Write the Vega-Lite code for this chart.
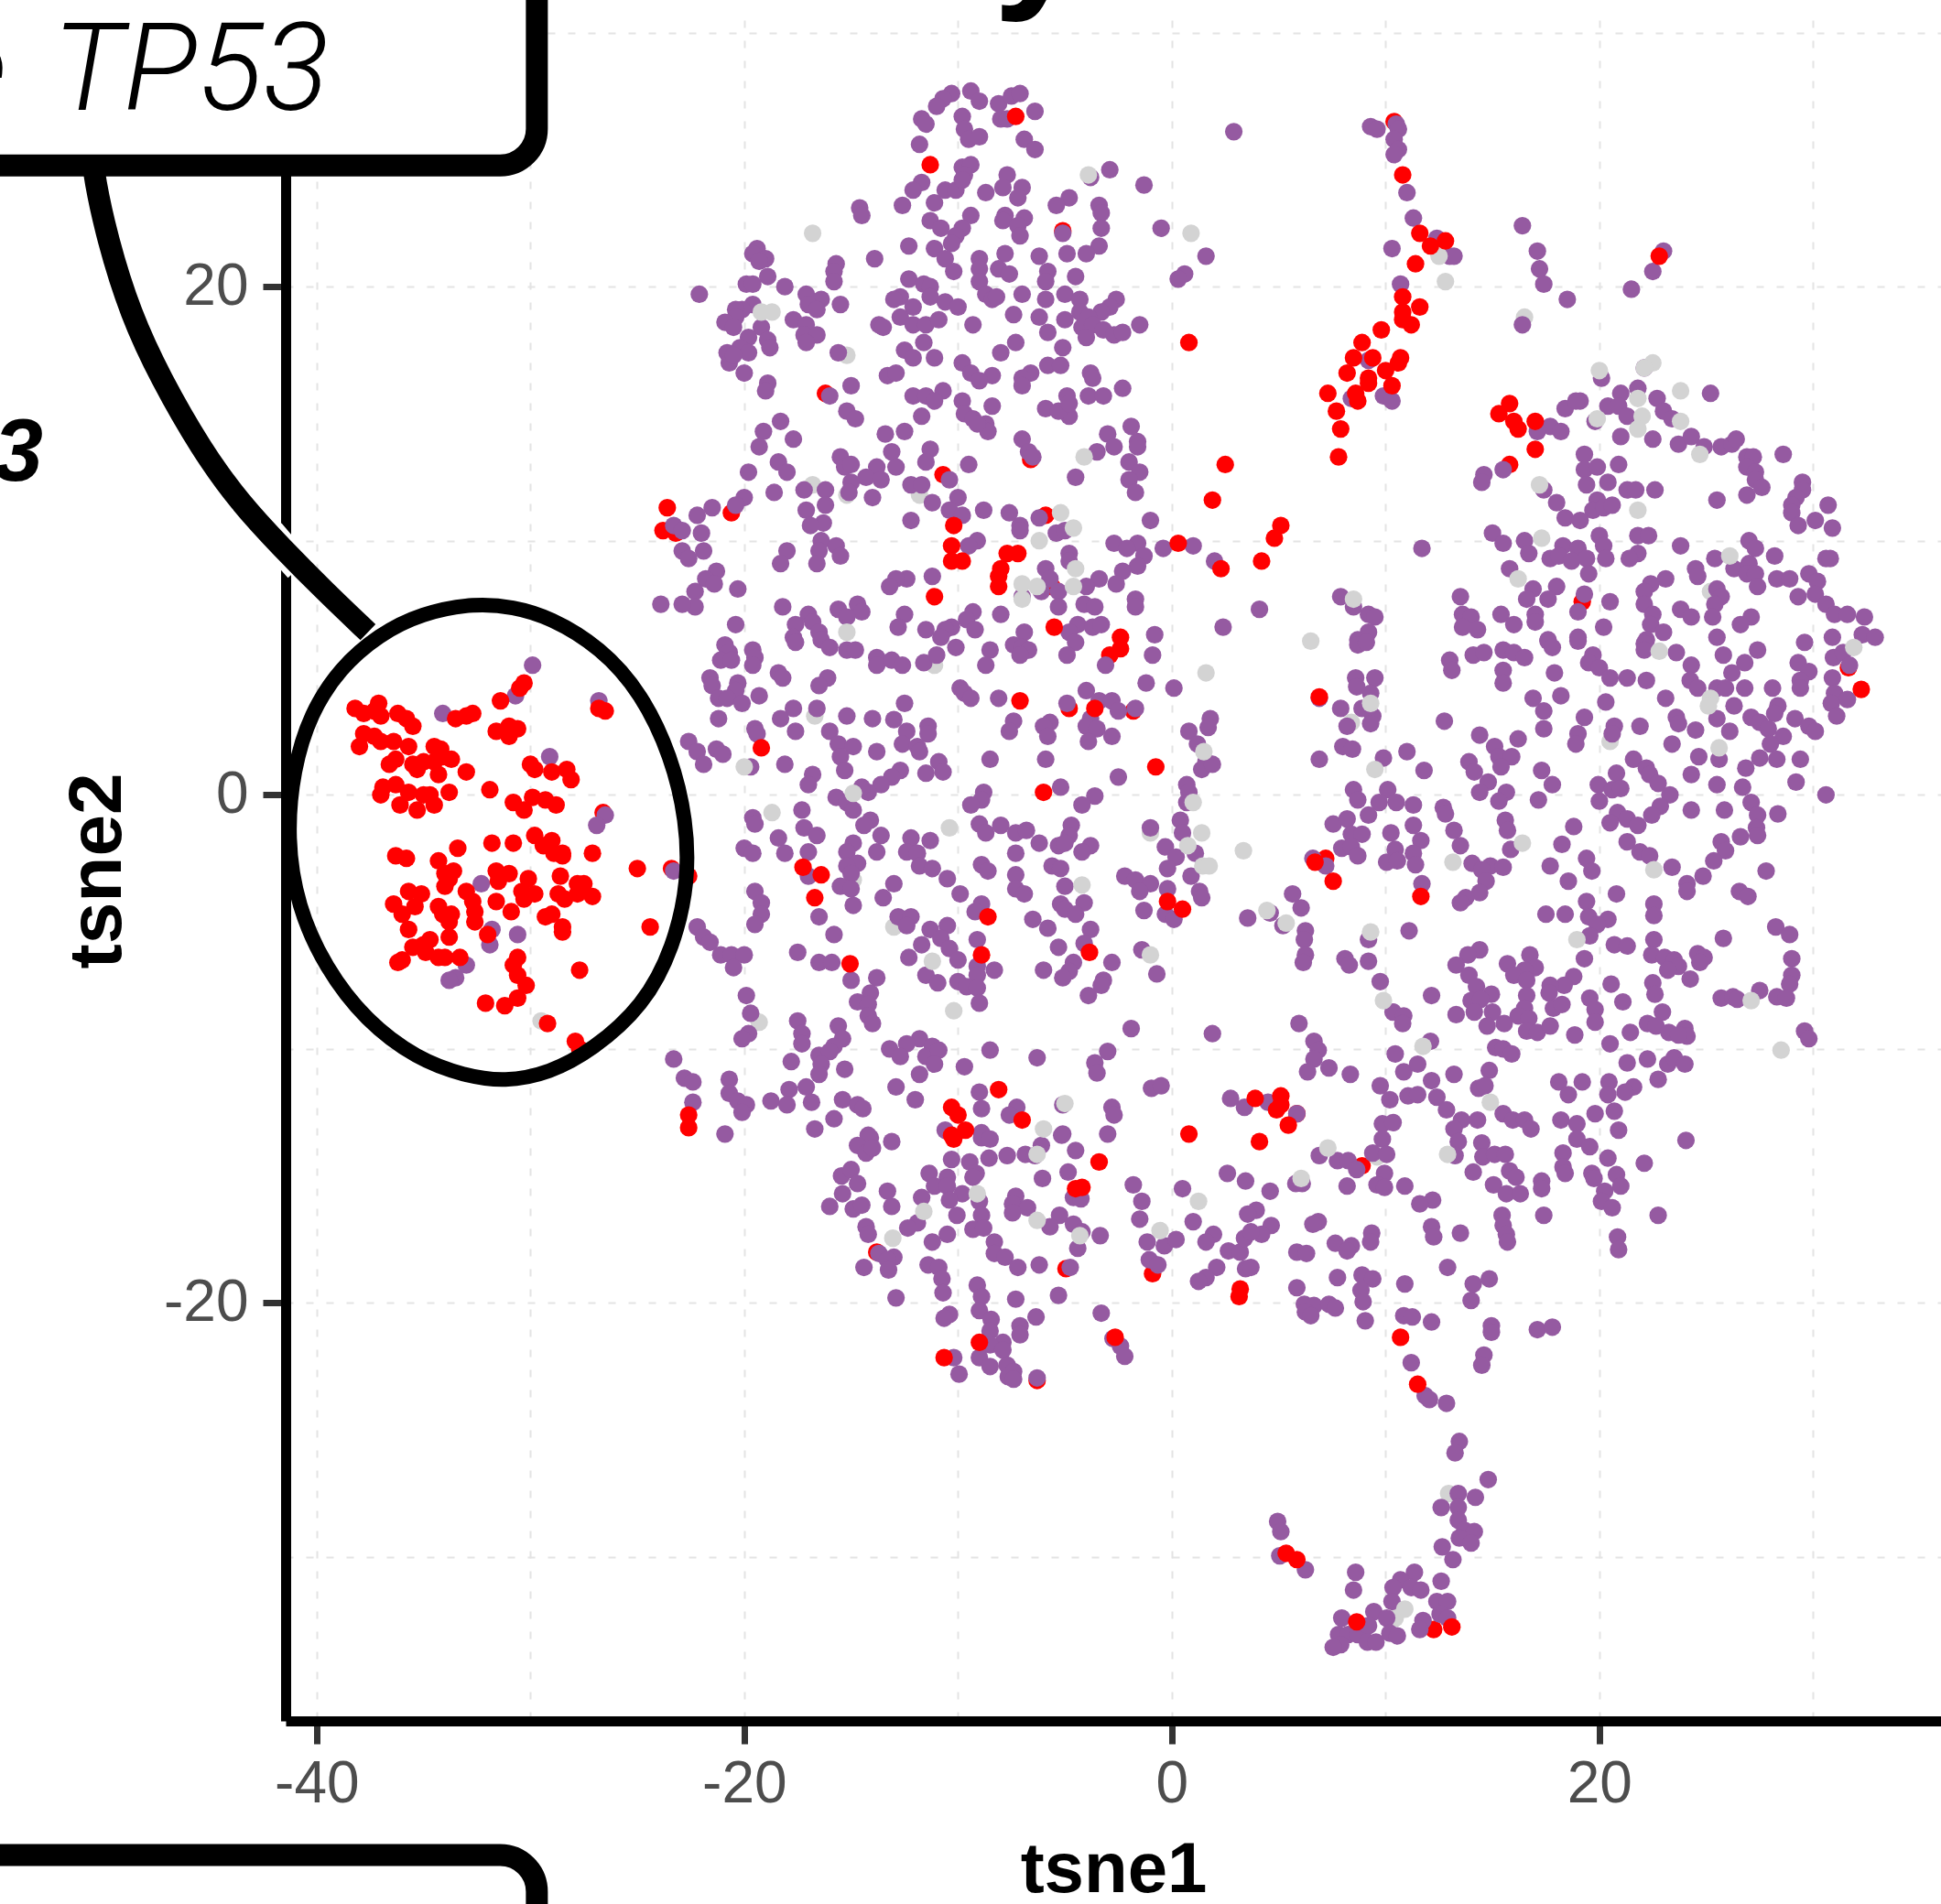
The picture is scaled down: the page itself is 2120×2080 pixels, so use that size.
{"$schema":"https://vega.github.io/schema/vega-lite/v6.json","width":1808,"height":1858,"autosize":"none","padding":{"left":312,"top":22,"right":0,"bottom":200},"background":"white","config":{"view":{"stroke":null},"font":"Liberation Sans"},
"datasets":{
"redUnder":[{"x":-5.1,"y":22.2},{"x":-16.2,"y":15.8},{"x":-10.7,"y":12.6},{"x":-6.6,"y":13.2},{"x":-5.9,"y":11},{"x":-20.6,"y":11.1},{"x":-23.8,"y":10.4},{"x":-23.2,"y":10.3},{"x":-5.6,"y":8.2},{"x":10.4,"y":26.5},{"x":15.8,"y":13},{"x":19.2,"y":7.6},{"x":-4.8,"y":3.4},{"x":-2.9,"y":5.5},{"x":-1.8,"y":3.3},{"x":31.65,"y":5},{"x":7.2,"y":-2.5},{"x":5.85,"y":-12.55},{"x":-6.3,"y":-23.05},{"x":-13.8,"y":-18},{"x":-4.95,"y":-18.65},{"x":8.9,"y":-14.6},{"x":12.25,"y":-32.85},{"x":-26.6,"y":-0.7},{"x":-23.4,"y":-2.9},{"x":-0.9,"y":-18.85}],
"grayUnder":[{"x":-15.2,"y":17.3},{"x":-16.8,"y":12.2},{"x":-15.2,"y":11.8},{"x":-11.8,"y":11.8},{"x":16.5,"y":18.8},{"x":-16.7,"y":3.1},{"x":-1,"y":-1.5},{"x":-13,"y":-5.2},{"x":-14.9,"y":-3.35},{"x":-19.3,"y":-8.95},{"x":-11.1,"y":5.1},{"x":8.4,"y":2.85},{"x":20.5,"y":2.1},{"x":9.6,"y":-14.25},{"x":12.95,"y":-27.5},{"x":10.45,"y":-32.4},{"x":-29.5,"y":-8.9},{"x":25.2,"y":8}],
"purple":[{"x":-10.3,"y":27.6},{"x":-10.7,"y":27.4},{"x":-11,"y":27.1},{"x":-9.4,"y":27.7},{"x":-9,"y":27.3},{"x":-8.1,"y":27.2},{"x":-7.5,"y":27.5},{"x":-7.1,"y":27.6},{"x":-8,"y":26.6},{"x":-7.7,"y":26.6},{"x":-6.4,"y":26.9},{"x":-11.7,"y":26.6},{"x":-11.5,"y":26.4},{"x":-9.8,"y":26.7},{"x":-9.7,"y":26.2},{"x":-9.5,"y":25.8},{"x":-9,"y":25.9},{"x":-11.8,"y":25.6},{"x":-6.9,"y":25.8},{"x":-6.4,"y":25.4},{"x":-9.8,"y":24.7},{"x":-9.4,"y":24.8},{"x":-9.7,"y":24.4},{"x":-2.9,"y":24.6},{"x":-3.8,"y":24.3},{"x":-11.7,"y":24.1},{"x":-12.1,"y":23.8},{"x":-10.6,"y":23.8},{"x":-10.1,"y":23.8},{"x":-9.8,"y":24.2},{"x":-7.7,"y":24.4},{"x":-7.9,"y":23.9},{"x":-8.7,"y":23.7},{"x":-7,"y":23.9},{"x":-7.2,"y":23.5},{"x":-1.3,"y":24},{"x":-4.8,"y":23.5},{"x":-5.4,"y":23.2},{"x":-11.1,"y":23.3},{"x":-12.6,"y":23.2},{"x":-14.6,"y":23.1},{"x":-14.5,"y":22.8},{"x":-3.4,"y":23.2},{"x":-3.3,"y":22.9},{"x":-3.3,"y":22.3},{"x":-0.5,"y":22.3},{"x":-11.3,"y":22.6},{"x":-10.8,"y":22.3},{"x":-9.4,"y":22.8},{"x":-9.8,"y":22.3},{"x":-10.1,"y":22},{"x":-10.3,"y":21.7},{"x":-7.8,"y":22.8},{"x":-7.9,"y":22.6},{"x":-6.9,"y":22.7},{"x":-7.2,"y":22.4},{"x":-7.1,"y":22},{"x":-5.1,"y":22.1},{"x":-12.3,"y":21.6},{"x":-11.1,"y":21.5},{"x":-7.8,"y":21.3},{"x":-3.4,"y":21.6},{"x":-4,"y":21.3},{"x":-4.9,"y":21.3},{"x":-6.2,"y":21.2},{"x":-19.4,"y":21.5},{"x":-19.6,"y":21.3},{"x":-19,"y":21.1},{"x":-19.3,"y":21},{"x":-15.7,"y":20.9},{"x":-15.8,"y":20.6},{"x":-15.8,"y":20.2},{"x":-13.9,"y":21.1},{"x":-10.6,"y":21.1},{"x":-10.2,"y":20.6},{"x":-9,"y":21.1},{"x":-9,"y":20.7},{"x":-9,"y":20.2},{"x":-8.1,"y":20.7},{"x":-7.6,"y":20.5},{"x":-5.8,"y":20.6},{"x":-5.9,"y":20.2},{"x":-4.5,"y":20.4},{"x":0.6,"y":20.5},{"x":0.3,"y":20.3},{"x":-18.9,"y":20.4},{"x":-19.9,"y":20.1},{"x":-19.6,"y":20.1},{"x":-18.1,"y":20},{"x":-22.1,"y":19.7},{"x":-17.1,"y":19.7},{"x":-16.4,"y":19.5},{"x":-17,"y":19.3},{"x":-16.6,"y":19.1},{"x":-15.5,"y":19.3},{"x":-12.3,"y":20.3},{"x":-11.6,"y":20.1},{"x":-11.3,"y":20},{"x":-11.3,"y":19.6},{"x":-12.7,"y":19.6},{"x":-13,"y":19.5},{"x":-12.1,"y":19.2},{"x":-10.6,"y":19.4},{"x":-10,"y":19.2},{"x":-8.7,"y":19.7},{"x":-8.4,"y":19.5},{"x":-8.2,"y":19.6},{"x":-7,"y":19.7},{"x":-5.9,"y":19.5},{"x":-5,"y":19.7},{"x":-4.3,"y":19.5},{"x":-2.6,"y":19.5},{"x":-2.9,"y":19.2},{"x":-3.3,"y":19},{"x":-4.3,"y":19},{"x":-19.6,"y":19.3},{"x":-20.1,"y":19.1},{"x":-20.4,"y":19.1},{"x":-20.4,"y":18.8},{"x":-20.9,"y":18.6},{"x":-20.5,"y":18.4},{"x":-17.7,"y":18.7},{"x":-17.1,"y":18.5},{"x":-12.7,"y":18.8},{"x":-12.1,"y":18.5},{"x":-13.7,"y":18.5},{"x":-13.5,"y":18.4},{"x":-11.5,"y":18.5},{"x":-10.9,"y":18.7},{"x":-9.3,"y":18.5},{"x":-7.4,"y":18.9},{"x":-6.2,"y":18.8},{"x":-5,"y":18.7},{"x":-3.9,"y":18.8},{"x":-4.2,"y":18.4},{"x":-3.7,"y":18.5},{"x":-1.5,"y":18.5},{"x":-3.2,"y":18.3},{"x":-2.7,"y":18.1},{"x":-2.3,"y":18.2},{"x":-5.8,"y":18.2},{"x":-4,"y":18},{"x":-19.2,"y":18.4},{"x":-19.8,"y":18},{"x":-18.9,"y":17.9},{"x":-18.8,"y":17.6},{"x":-17.2,"y":18.1},{"x":-16.6,"y":18.1},{"x":-17.1,"y":17.8},{"x":-11.6,"y":17.8},{"x":-7.3,"y":17.8},{"x":-8,"y":17.4},{"x":-5.1,"y":17.6},{"x":-20.8,"y":17.4},{"x":-20.2,"y":17.6},{"x":-19.8,"y":17.4},{"x":-20.7,"y":17},{"x":-20.5,"y":17.3},{"x":-20,"y":16.6},{"x":-15.6,"y":17.4},{"x":-12.5,"y":17.5},{"x":-12.1,"y":17.2},{"x":-11.1,"y":17.2},{"x":-9.8,"y":17},{"x":-9.4,"y":16.6},{"x":-8.4,"y":16.5},{"x":-9,"y":16.3},{"x":-5.8,"y":16.9},{"x":-5.2,"y":16.9},{"x":-6.6,"y":16.6},{"x":-7,"y":16.4},{"x":-7,"y":16.1},{"x":-13.3,"y":16.5},{"x":-12.9,"y":16.6},{"x":-3.8,"y":16.6},{"x":-3.7,"y":16.4},{"x":-18.9,"y":16.2},{"x":-19,"y":15.9},{"x":-15,"y":16.1},{"x":-16,"y":15.7},{"x":-2.3,"y":16},{"x":-3.9,"y":15.7},{"x":-3.2,"y":15.7},{"x":-4.9,"y":15.7},{"x":-12.1,"y":15.7},{"x":-11.5,"y":15.7},{"x":-10.7,"y":15.9},{"x":-11.1,"y":15.5},{"x":-9.8,"y":15.5},{"x":-8.4,"y":15.3},{"x":-4.8,"y":14.9},{"x":-5.9,"y":15.2},{"x":-5.3,"y":15.1},{"x":-4.8,"y":15.4},{"x":-11.7,"y":14.9},{"x":-9.7,"y":15},{"x":-9.3,"y":14.8},{"x":-8.7,"y":14.6},{"x":-8.6,"y":14.3},{"x":-9.1,"y":14.6},{"x":-15.2,"y":15.1},{"x":-14.8,"y":14.8},{"x":-18.3,"y":14.7},{"x":-19.1,"y":14.3},{"x":-17.7,"y":14},{"x":-19.3,"y":13.7},{"x":-13.4,"y":14.2},{"x":-12.5,"y":14.3},{"x":-1.9,"y":14.5},{"x":-3,"y":14.2},{"x":-1.6,"y":13.9},{"x":-1.6,"y":13.7},{"x":-7,"y":14},{"x":-6.7,"y":13.5},{"x":-6.5,"y":13.3},{"x":-2.7,"y":13.7},{"x":-3.5,"y":13.5},{"x":-13.1,"y":13.5},{"x":-11.3,"y":13.6},{"x":-11.5,"y":13.1},{"x":-18.4,"y":13.1},{"x":-18,"y":12.7},{"x":-19.8,"y":12.7},{"x":-15.5,"y":13.3},{"x":-15.3,"y":12.9},{"x":-15,"y":13},{"x":-13.8,"y":12.9},{"x":-12.9,"y":12.9},{"x":-9.5,"y":13},{"x":-2,"y":13.1},{"x":-1.5,"y":12.7},{"x":-2,"y":12.4},{"x":-4.5,"y":12.5},{"x":-10.4,"y":12.4},{"x":-14.3,"y":12.5},{"x":-13.6,"y":12.4},{"x":-15,"y":12.3},{"x":-12.2,"y":12.2},{"x":-11.7,"y":12.2},{"x":-1.7,"y":11.9},{"x":-17.2,"y":12},{"x":-16.2,"y":12},{"x":-15.1,"y":11.9},{"x":-18.6,"y":11.9},{"x":-20,"y":11.7},{"x":-20.4,"y":11.4},{"x":-14,"y":11.7},{"x":-10,"y":11.7},{"x":-11.2,"y":11.5},{"x":-16.2,"y":11.4},{"x":-21.5,"y":11.3},{"x":-17.1,"y":11.2},{"x":-10.4,"y":11.2},{"x":-9.8,"y":11},{"x":-8.8,"y":11.2},{"x":-7.6,"y":11.1},{"x":-22.2,"y":11},{"x":-12.2,"y":10.8},{"x":-1,"y":10.8},{"x":-7.1,"y":10.6},{"x":-6.2,"y":10.9},{"x":-16.3,"y":10.7},{"x":-16.9,"y":10.6},{"x":-23.3,"y":10.6},{"x":-22.9,"y":10.4},{"x":-22,"y":10.3},{"x":-7.1,"y":10.4},{"x":-5.4,"y":10.3},{"x":-5,"y":10.4},{"x":-16.4,"y":10},{"x":-9.1,"y":10},{"x":-9.5,"y":9.8},{"x":-2.7,"y":9.9},{"x":-1.6,"y":9.9},{"x":-2.1,"y":9.7},{"x":-0.4,"y":9.7},{"x":-15.7,"y":9.8},{"x":-16.5,"y":9.6},{"x":-22.9,"y":9.6},{"x":-21.9,"y":9.6},{"x":-18,"y":9.6},{"x":-15.5,"y":9.4},{"x":-1.3,"y":9.4},{"x":-4.8,"y":9.5},{"x":-22.6,"y":9.3},{"x":-18.3,"y":9.1},{"x":-16.6,"y":9.1},{"x":-4.8,"y":9.2},{"x":-1.6,"y":9},{"x":-21.3,"y":8.8},{"x":-5.9,"y":8.9},{"x":-2.3,"y":8.8},{"x":-5.7,"y":8.5},{"x":-21.8,"y":8.5},{"x":-11.2,"y":8.6},{"x":-12.4,"y":8.5},{"x":-12.9,"y":8.5},{"x":-13.2,"y":8.2},{"x":-3.4,"y":8.5},{"x":-4,"y":8.2},{"x":-2.6,"y":8.3},{"x":-21.4,"y":8.3},{"x":-20.3,"y":8.1},{"x":-22.3,"y":8},{"x":-7,"y":7.8},{"x":-6.1,"y":8},{"x":-5.3,"y":8},{"x":-1.7,"y":7.7},
{"x":2.9,"y":26.1},{"x":9.3,"y":26.3},{"x":9.6,"y":26.2},{"x":10.5,"y":26.4},{"x":10.6,"y":26.2},{"x":10.4,"y":25.8},{"x":10.6,"y":25.4},{"x":10.4,"y":25.2},{"x":11,"y":23.7},{"x":11.3,"y":22.7},{"x":10.3,"y":21.5},{"x":12.4,"y":21.9},{"x":13,"y":21.2},{"x":13.2,"y":21.2},{"x":10.7,"y":20.1},{"x":16.4,"y":22.4},{"x":17.1,"y":21.4},{"x":17.2,"y":20.7},{"x":17.4,"y":20.1},{"x":18.5,"y":19.5},{"x":23,"y":21.4},{"x":22.5,"y":20.6},{"x":21.5,"y":19.9},{"x":16.4,"y":18.5},{"x":1.6,"y":21.2},{"x":9.2,"y":17.1},{"x":8.4,"y":15.6},{"x":9.9,"y":15.7},{"x":10.3,"y":15.5},{"x":20.1,"y":16.4},{"x":22.1,"y":16.8},{"x":19.1,"y":15.5},{"x":18.4,"y":15.2},{"x":18.9,"y":15.5},{"x":21,"y":15.8},{"x":21.8,"y":16},{"x":22.7,"y":15.6},{"x":20.4,"y":15.3},{"x":20.9,"y":15.3},{"x":25.2,"y":15.8},{"x":23,"y":15.1},{"x":23.4,"y":14.8},{"x":21.3,"y":14.9},{"x":19.8,"y":14.7},{"x":17.7,"y":14.5},{"x":18.2,"y":14.3},{"x":17.1,"y":14.3},{"x":21,"y":14.1},{"x":22.5,"y":14},{"x":23.7,"y":13.8},{"x":24.3,"y":14.1},{"x":24.9,"y":13.7},{"x":25.7,"y":13.7},{"x":26.2,"y":13.8},{"x":26.4,"y":14},{"x":26.9,"y":13.3},{"x":27.2,"y":13.3},{"x":28.6,"y":13.4},{"x":19.3,"y":13.4},{"x":26.9,"y":12.9},{"x":27.3,"y":12.7},{"x":20.9,"y":13},{"x":15.5,"y":12.8},{"x":14.6,"y":12.6},{"x":14.5,"y":12.3},{"x":19.3,"y":12.8},{"x":19.9,"y":12.9},{"x":19.4,"y":12.2},{"x":20.4,"y":12.3},{"x":27.3,"y":12.4},{"x":27.6,"y":12.1},{"x":26.9,"y":11.8},{"x":29.5,"y":12.3},{"x":29.5,"y":12},{"x":17.4,"y":12},{"x":21.3,"y":12},{"x":21.7,"y":12},{"x":22.6,"y":12},{"x":25.5,"y":11.6},{"x":29.2,"y":11.7},{"x":29,"y":11.4},{"x":18,"y":11.5},{"x":19.9,"y":11.6},{"x":19.7,"y":11.2},{"x":20.2,"y":11.3},{"x":20.6,"y":11.4},{"x":30.7,"y":11.4},{"x":29,"y":11.1},{"x":18.4,"y":10.9},{"x":19.1,"y":10.8},{"x":30.1,"y":10.8},{"x":29.3,"y":10.6},{"x":30.9,"y":10.5},{"x":20,"y":10.2},{"x":15,"y":10.3},{"x":15.5,"y":9.9},{"x":16.5,"y":10},{"x":16.7,"y":9.5},{"x":18.3,"y":9.8},{"x":19,"y":9.7},{"x":20.2,"y":9.8},{"x":20.3,"y":9.3},{"x":21.8,"y":10.2},{"x":22.3,"y":10.2},{"x":23.8,"y":9.8},{"x":27,"y":10},{"x":27.3,"y":9.7},{"x":11.7,"y":9.7},{"x":1,"y":9.8},{"x":17.7,"y":9.3},{"x":18.1,"y":9.4},{"x":18.7,"y":9.2},{"x":19.4,"y":9.3},{"x":21.8,"y":9.5},{"x":21.4,"y":9.3},{"x":25.4,"y":9.3},{"x":28.2,"y":9.4},{"x":30.6,"y":9.3},{"x":30.8,"y":9.3},{"x":2,"y":9.2},{"x":15.8,"y":8.9},{"x":19.5,"y":8.7},{"x":24.5,"y":8.9},{"x":24.6,"y":8.6},{"x":26.3,"y":8.9},{"x":27,"y":9.1},{"x":26.9,"y":8.7},{"x":27.3,"y":8.7},{"x":23.1,"y":8.5},{"x":22.4,"y":8.3},{"x":28.3,"y":8.5},{"x":28.9,"y":8.5},{"x":29.8,"y":8.7},{"x":27.4,"y":8.2},{"x":16.9,"y":8.1},{"x":18,"y":8.2},{"x":30.2,"y":8.4},{"x":16.6,"y":7.7},{"x":17.6,"y":7.7},{"x":22.1,"y":8},{"x":19.3,"y":7.9},{"x":25.5,"y":8.1},{"x":25.7,"y":7.8},{"x":29.3,"y":7.8},{"x":30.1,"y":7.9},{"x":22.1,"y":7.5},{"x":13.5,"y":7.8},{"x":20.5,"y":7.6},{"x":7.9,"y":7.8},{"x":8.5,"y":7.4},{"x":25.4,"y":7.5},{"x":30.6,"y":7.5},{"x":4.1,"y":7.3},{"x":9.2,"y":7.1},{"x":9.5,"y":7},{"x":13.6,"y":7.1},{"x":14,"y":7},{"x":15.4,"y":7.1},{"x":19,"y":7.2},{"x":23.8,"y":7.3},{"x":24.3,"y":7},{"x":22.5,"y":7.1},{"x":25.3,"y":7},{"x":27.1,"y":7},{"x":31,"y":7.1},{"x":31.6,"y":7.1},{"x":32.4,"y":7},{"x":17,"y":7.1},{"x":17,"y":6.8},{"x":16,"y":6.7},{"x":13.6,"y":6.6},{"x":14.3,"y":6.5},{"x":9.2,"y":6.4},{"x":2.4,"y":6.6},{"x":20.2,"y":6.6},{"x":22.4,"y":6.7},{"x":26.6,"y":6.7},{"x":32.3,"y":6.3},{"x":32.9,"y":6.2},{"x":25.5,"y":6.2},{"x":30.9,"y":6.2},{"x":17.6,"y":6.1},{"x":19,"y":6.2},{"x":23,"y":6.4},{"x":22.2,"y":6.1},{"x":8.7,"y":6.1},
{"x":-22.3,"y":7.4},{"x":-22.9,"y":7.5},{"x":-23.9,"y":7.5},{"x":-18.2,"y":7.4},{"x":-17,"y":7.1},{"x":-15.6,"y":7.3},{"x":-14.7,"y":7.5},{"x":-14.5,"y":7.2},{"x":-15.2,"y":7},{"x":-12.5,"y":7.1},{"x":-12.8,"y":6.6},{"x":-9.3,"y":7.2},{"x":-9.6,"y":6.9},{"x":-9.2,"y":6.5},{"x":-8,"y":7.1},{"x":-10.3,"y":6.6},{"x":-10.6,"y":6.5},{"x":-11.5,"y":6.5},{"x":-10.8,"y":6.2},{"x":-20.4,"y":6.7},{"x":-17.6,"y":6.7},{"x":-16.8,"y":6.8},{"x":-16.5,"y":6.4},{"x":-17.7,"y":6.2},{"x":-17.6,"y":6},{"x":-16.4,"y":6.1},{"x":-5.3,"y":7.4},{"x":-4.1,"y":7.5},{"x":-3.6,"y":7.4},{"x":-1.7,"y":7.4},{"x":-6.9,"y":6.4},{"x":-4.4,"y":6.7},{"x":-3.7,"y":6.6},{"x":-3.3,"y":6.7},{"x":-4.8,"y":6.4},{"x":-4.5,"y":6},{"x":-4.9,"y":5.5},{"x":-0.8,"y":6.3},{"x":-0.9,"y":5.5},{"x":-10.1,"y":5.8},{"x":-8.5,"y":5.7},{"x":-7.4,"y":5.9},{"x":-7,"y":5.8},{"x":-6.7,"y":5.7},{"x":-7.1,"y":5.5},{"x":-20.9,"y":5.9},{"x":-20.7,"y":5.6},{"x":-21.1,"y":5.3},{"x":-20.6,"y":5.3},{"x":-19.6,"y":5.7},{"x":-19.5,"y":5.4},{"x":-19.6,"y":5.1},{"x":-16,"y":5.8},{"x":-15.2,"y":5.7},{"x":-14.8,"y":5.7},{"x":-13.8,"y":5.4},{"x":-13.8,"y":5.1},{"x":-13.1,"y":5.3},{"x":-12.6,"y":5.1},{"x":-11.6,"y":5.2},{"x":-11,"y":5.5},{"x":-8.7,"y":5.1},{"x":-3.1,"y":5.1},{"x":-1.2,"y":4.4},{"x":0.1,"y":4.2},{"x":-21.6,"y":4.6},{"x":-21.5,"y":4.3},{"x":-18.4,"y":4.8},{"x":-18.2,"y":4.6},{"x":-16.1,"y":4.6},{"x":-16.5,"y":4.3},{"x":-20.3,"y":4.4},{"x":-20.4,"y":4.1},{"x":-19.3,"y":3.9},{"x":-21.2,"y":3.8},{"x":-20.8,"y":3.8},{"x":-20.1,"y":3.6},{"x":-9.9,"y":4.2},{"x":-9.7,"y":4},{"x":-9.4,"y":3.8},{"x":-8.1,"y":3.8},{"x":-4,"y":4.1},{"x":-4.9,"y":3.6},{"x":-3.4,"y":3.7},{"x":-2.8,"y":3.7},{"x":-2.5,"y":3.3},{"x":-1.7,"y":3.4},{"x":-12.5,"y":3.6},{"x":-17.7,"y":3.4},{"x":-16.6,"y":3.4},{"x":-18.3,"y":3},{"x":-21.2,"y":3},{"x":-15.2,"y":3.1},{"x":-14,"y":3},{"x":-13,"y":2.96},{"x":-7.4,"y":2.9},{"x":-7.6,"y":2.5},{"x":-5.7,"y":2.85},{"x":-6,"y":2.7},{"x":-5.8,"y":2.3},{"x":1.8,"y":3},{"x":1.7,"y":2.65},{"x":-3.8,"y":3},{"x":-4,"y":2.7},{"x":-3.5,"y":2.6},{"x":-3.9,"y":2.1},{"x":-2.8,"y":2.3},{"x":-17.6,"y":2.5},{"x":-19.5,"y":2.6},{"x":-19.4,"y":2.4},{"x":-16,"y":2.5},{"x":-12.4,"y":2.5},{"x":-11.4,"y":2.7},{"x":-11.4,"y":2.4},{"x":0.8,"y":2.5},{"x":1.2,"y":2},{"x":-22.6,"y":2.1},{"x":-22.2,"y":1.7},{"x":-21.9,"y":1.2},{"x":-21.3,"y":1.8},{"x":-21,"y":1.6},{"x":-15.6,"y":2},{"x":-14.9,"y":1.9},{"x":-15.5,"y":1.5},{"x":-12.6,"y":2},{"x":-11.9,"y":1.9},{"x":-11.8,"y":1.7},{"x":-13.8,"y":1.7},{"x":-5.9,"y":1.4},{"x":-8.5,"y":1.4},{"x":-18.1,"y":1.2},{"x":-19.7,"y":1.1},{"x":-10.9,"y":1.3},{"x":-10.7,"y":0.9},{"x":-11.5,"y":0.85},{"x":-15.3,"y":0.96},{"x":-12.7,"y":0.96},{"x":1.6,"y":1.3},{"x":1.4,"y":1},{"x":1.9,"y":1.2},{"x":-2.5,"y":0.7},{"x":-16.8,"y":0.8},{"x":-17,"y":0.4},{"x":-13.1,"y":0.7},{"x":-13.6,"y":0.4},{"x":-14.2,"y":0.1},{"x":-14.5,"y":0.3},{"x":-5.2,"y":0.3},{"x":-3.6,"y":-0.05},{"x":-4.2,"y":-0.4},{"x":-8.8,"y":0.1},{"x":-8.9,"y":-0.2},{"x":-9.4,"y":-0.4},{"x":0.7,"y":0.4},{"x":0.8,"y":0.1},{"x":0.7,"y":-0.3},{"x":-15.7,"y":-0.1},{"x":-15.2,"y":-0.3},{"x":-14.9,"y":-0.6},{"x":-17.3,"y":-0.6},{"x":-19.6,"y":-0.9},{"x":-19.5,"y":-1.15},{"x":-14.1,"y":-1},{"x":-14.4,"y":-1.2},{"x":-17.2,"y":-1.3},{"x":-16.6,"y":-1.6},{"x":-9,"y":-1.15},{"x":-8.7,"y":-1.5},{"x":-8,"y":-1.2},{"x":-7.3,"y":-1.5},{"x":-6.8,"y":-1.4},{"x":-4.7,"y":-1.2},{"x":-4.8,"y":-1.6},{"x":0.4,"y":-1},{"x":-1,"y":-1.3},{"x":0.5,"y":-1.5},{"x":-6.2,"y":-1.9},{"x":-5.3,"y":-2},{"x":-5,"y":-1.9},{"x":-3.8,"y":-2},{"x":-4.2,"y":-2.25},{"x":-13.6,"y":-1.6},{"x":-14.9,"y":-1.9},{"x":-18.4,"y":-1.7},{"x":-20,"y":-2.1},{"x":-19.6,"y":-2.3},{"x":-18.1,"y":-2.3},{"x":-17,"y":-2.25},{"x":-13.8,"y":-2.25},{"x":-12.2,"y":-1.7},{"x":-11.3,"y":-1.8},{"x":-12.4,"y":-2.25},{"x":-11.9,"y":-2.3},{"x":-15.2,"y":-2.25},{"x":-7.3,"y":-2.3},{"x":-0.3,"y":-2.05},{"x":1.1,"y":-2.3},{"x":0.2,"y":-2.45},{"x":-11.8,"y":-2.8},{"x":-11.2,"y":-2.9},{"x":-8.9,"y":-2.75},{"x":-8.6,"y":-3},{"x":-5.6,"y":-2.8},{"x":-5.2,"y":-2.9},{"x":-0.2,"y":-2.9},{"x":-14.7,"y":-2.7},{"x":-15.2,"y":-2.8},{"x":-15,"y":-3.1},{"x":-17,"y":-3.2},{"x":-10.5,"y":-3.3},{"x":-7.3,"y":-3.15},{"x":0.9,"y":-3.2},{"x":-2.2,"y":-3.2},{"x":-1.7,"y":-3.35},{"x":-1,"y":-3.5},{"x":-1.5,"y":-3.8},{"x":-0.2,"y":-3.7},{"x":-5,"y":-3.6},{"x":-19.5,"y":-3.8},{"x":-19.2,"y":-4.25},{"x":-13,"y":-3.5},{"x":-15.5,"y":-3.6},{"x":-15,"y":-3.7},{"x":-13.5,"y":-4.05},{"x":-9.9,"y":-3.9},{"x":-7.3,"y":-3.7},{"x":-6.9,"y":-3.9},{"x":1.3,"y":-3.8},{"x":1.4,"y":-4.05},{"x":-14.9,"y":-4.35},{"x":-5.2,"y":-4.3},{"x":-5,"y":-4.5},{"x":-4.1,"y":-4.25},{"x":-4.5,"y":-4.7},{"x":-8.9,"y":-4.3},{"x":-9.2,"y":-4.6},{"x":-1.3,"y":-4.55},{"x":-0.3,"y":-4.7},{"x":0.1,"y":-4.9},{"x":-16.5,"y":-4.8},{"x":-19.2,"y":-4.7},{"x":-19.5,"y":-5.1},{"x":-12.8,"y":-4.8},{"x":-12.2,"y":-4.8},{"x":-12.4,"y":-5.15},{"x":-6.5,"y":-4.9},{"x":-22.2,"y":-5.2},{"x":-21.9,"y":-5.6},{"x":-21.6,"y":-5.8},{"x":-11.3,"y":-5.3},{"x":-10.5,"y":-5.15},{"x":-5.8,"y":-5.25},{"x":-3.8,"y":-5.3},{"x":-15.8,"y":-5.5},{"x":-9.1,"y":-5.7},{"x":-10.8,"y":-5.65},{"x":-4.1,"y":-5.85},{"x":-11.7,"y":-5.9},{"x":-10.4,"y":-6.05},{"x":-5.3,"y":-6},{"x":-1.4,"y":-6.1},{"x":-17.5,"y":-6.2},{"x":-21.1,"y":-6.3},{"x":-20.6,"y":-6.3},{"x":-20,"y":-6.3},{"x":-12.3,"y":-6.4},{"x":-10,"y":-6.5},{"x":-16.5,"y":-6.6},{"x":-15.9,"y":-6.6},{"x":-20.5,"y":-6.8},{"x":-9.1,"y":-6.75},{"x":-8.3,"y":-6.9},{"x":-4.6,"y":-6.6},{"x":-2.8,"y":-6.6},{"x":-6,"y":-6.9},{"x":-0.7,"y":-7.05},{"x":-11.5,"y":-7.1},{"x":-9.1,"y":-7.1},{"x":-4.8,"y":-6.95},{"x":-13.8,"y":-7.2},{"x":-5.1,"y":-7.2},{"x":-3.2,"y":-7.3},{"x":-15,"y":-7.3},{"x":-10.95,"y":-7.4},{"x":-10,"y":-7.35},{"x":-9.6,"y":-7.55},{"x":-9.1,"y":-7.6},{"x":-14.1,"y":-7.8},{"x":-3.9,"y":-7.9},{"x":-3.3,"y":-7.5},{"x":-19.9,"y":-7.9},{"x":-9,"y":-8.2},{"x":-14.7,"y":-8.15},{"x":-14.2,"y":-8.25},{"x":-14.2,"y":-8.7},{"x":-19.7,"y":-8.6},{"x":-14,"y":-9},{"x":-17.5,"y":-8.9},{"x":-15.6,"y":-9.1},{"x":-19.8,"y":-9.4},{"x":-20.1,"y":-9.6},{"x":-17.3,"y":-9.4},{"x":-15.4,"y":-9.6},{"x":-1.9,"y":-9.2},{"x":1.9,"y":-9.4},{"x":-17.3,"y":-9.8},{"x":-15.8,"y":-9.9},{"x":-11.8,"y":-9.6},{"x":-12.4,"y":-9.8},{"x":-11.2,"y":-9.9},{"x":-13.2,"y":-10},{"x":-12.7,"y":-10.3},{"x":-11.5,"y":-10.3},{"x":-10.9,"y":-10.05},{"x":-8.5,"y":-10.05},{"x":-23.3,"y":-10.4},{"x":-16.5,"y":-10.25},{"x":-16,"y":-10.1},{"x":-16.4,"y":-10.6},{"x":-17.8,"y":-10.5},{"x":-11.1,"y":-10.6},{"x":-6.3,"y":-10.35},{"x":-3,"y":-10.1},{"x":-3.6,"y":-10.55},{"x":-9.7,"y":-10.7},{"x":-15.3,"y":-10.8},{"x":-16.5,"y":-11},{"x":-11.8,"y":-11},{"x":-3.5,"y":-10.95},{"x":-22.8,"y":-11.15},{"x":-22.4,"y":-11.3},{"x":-20.7,"y":-11.2},{"x":-0.95,"y":-11.55},{"x":-0.5,"y":-11.45},{"x":-12.9,"y":-11.5},{"x":-9,"y":-11.7},{"x":-17.1,"y":-11.5},{"x":-17.9,"y":-11.6},{"x":-12,"y":-12},{"x":-20.7,"y":-11.75},{"x":-20.3,"y":-12.05},{"x":-19.9,"y":-12.2},{"x":-22.4,"y":-12.1},{"x":-18.75,"y":-12.05},{"x":-18,"y":-12.2},{"x":-16.85,"y":-12.1},{"x":-15.4,"y":-12},{"x":-14.7,"y":-12.2},{"x":-14.45,"y":-12.35},{"x":-20.1,"y":-12.5},{"x":-8.9,"y":-12.35},{"x":-7.25,"y":-12.3},{"x":-7.6,"y":-12.6},{"x":-2.8,"y":-12.3},{"x":-2.7,"y":-12.6},{"x":2.75,"y":-11.95},{"x":-15.8,"y":-12.75},{"x":-5.1,"y":-12.2},{"x":-16.7,"y":-13.15},{"x":-20.9,"y":-13.35},{"x":-14.2,"y":-13.4},{"x":-10.6,"y":-13.2},{"x":-8.9,"y":-13.3},{"x":-5.1,"y":-13.35},{"x":-3,"y":-13.35},
{"x":8.7,"y":5.9},{"x":9.1,"y":6},{"x":23.6,"y":5.6},{"x":25.8,"y":5.5},{"x":27.4,"y":5.7},{"x":29.6,"y":6},{"x":22.1,"y":5.95},{"x":22.1,"y":5.7},{"x":13,"y":5.3},{"x":13.1,"y":4.9},{"x":14.1,"y":5.5},{"x":14.6,"y":5.6},{"x":15.5,"y":5.7},{"x":16,"y":5.6},{"x":16.5,"y":5.4},{"x":17.6,"y":6.05},{"x":17.8,"y":5.8},{"x":19,"y":6.05},{"x":19.7,"y":5.5},{"x":19.5,"y":5.2},{"x":20,"y":5},{"x":20.5,"y":4.6},{"x":21.3,"y":4.6},{"x":22.2,"y":4.5},{"x":24.3,"y":5.1},{"x":24.25,"y":4.5},{"x":24.6,"y":4.2},{"x":15.5,"y":4.9},{"x":15.5,"y":4.4},{"x":17.9,"y":4.8},{"x":26.2,"y":4.8},{"x":26.8,"y":5.2},{"x":29.3,"y":5.2},{"x":29.8,"y":4.85},{"x":30.95,"y":5.4},{"x":31.4,"y":5.6},{"x":31.7,"y":5.1},{"x":30.9,"y":4.6},{"x":29.4,"y":4.5},{"x":29.4,"y":4.2},{"x":25.5,"y":4.2},{"x":25.9,"y":4.2},{"x":26.8,"y":4.2},{"x":28.1,"y":4.2},{"x":23.1,"y":3.8},{"x":8.6,"y":4.6},{"x":8.65,"y":4.25},{"x":9.5,"y":4.6},{"x":9.3,"y":4},{"x":7.9,"y":3.4},{"x":8.9,"y":3.4},{"x":9.4,"y":3.1},{"x":9.3,"y":2.8},{"x":8.2,"y":2.7},{"x":6.9,"y":3.8},{"x":16.9,"y":3.8},{"x":18.2,"y":3.9},{"x":20.3,"y":3.65},{"x":31,"y":4},{"x":31.6,"y":3.75},{"x":30.85,"y":3.6},{"x":26.3,"y":3.5},{"x":28.35,"y":3.5},{"x":28.2,"y":3.2},{"x":31.1,"y":3.1},{"x":17.4,"y":3.3},{"x":17.4,"y":2.6},{"x":19.3,"y":3.05},{"x":12.75,"y":2.9},{"x":20.7,"y":2.7},{"x":20.6,"y":2.4},{"x":21.9,"y":2.7},{"x":23.6,"y":3.05},{"x":23.7,"y":2.8},{"x":25.5,"y":3},{"x":27.1,"y":3.05},{"x":27.5,"y":2.85},{"x":27.9,"y":2.6},{"x":29.15,"y":3},{"x":29.8,"y":2.7},{"x":30.1,"y":2.5},{"x":24.5,"y":2.55},{"x":26.1,"y":2.5},{"x":28.6,"y":2.3},{"x":28,"y":2},{"x":19,"y":2.4},{"x":18.9,"y":2},{"x":14.4,"y":2.35},{"x":16.2,"y":2.2},{"x":23.4,"y":2},{"x":15.1,"y":1.9},{"x":15.3,"y":1.5},{"x":15.9,"y":1.5},{"x":15.4,"y":1.1},{"x":8,"y":1.9},{"x":8.45,"y":1.8},{"x":11,"y":1.7},{"x":9.9,"y":1.45},{"x":6.9,"y":1.4},{"x":11.8,"y":0.96},{"x":13.9,"y":1.3},{"x":14.15,"y":0.9},{"x":17.3,"y":0.96},{"x":17.8,"y":0.4},{"x":21.6,"y":1.4},{"x":24.65,"y":1.5},{"x":25.6,"y":1.4},{"x":27.5,"y":1.45},{"x":28.3,"y":1.4},{"x":29.4,"y":1.4},{"x":26.85,"y":1.05},{"x":22.2,"y":1.05},{"x":20.8,"y":0.85},{"x":22.35,"y":0.8},{"x":24.3,"y":0.8},{"x":22.75,"y":0.45},{"x":25.5,"y":0.4},{"x":26.7,"y":0.3},{"x":29.2,"y":0.5},{"x":14.8,"y":0.5},{"x":14.4,"y":0.1},{"x":15.65,"y":0.1},{"x":15.3,"y":-0.25},{"x":17.15,"y":-0.2},{"x":19.95,"y":0.4},{"x":20.6,"y":0.2},{"x":21,"y":0.25},{"x":20,"y":-0.25},{"x":30.6,"y":0},{"x":8.5,"y":0.2},{"x":8.7,"y":-0.2},{"x":10.1,"y":0.2},{"x":9.7,"y":-0.3},{"x":10.5,"y":-0.3},{"x":11.3,"y":-0.4},{"x":12.7,"y":-0.5},{"x":12.8,"y":-0.75},{"x":9.2,"y":-0.8},{"x":23.3,"y":0},{"x":22.85,"y":-0.45},{"x":22.45,"y":-0.8},{"x":24.3,"y":-0.6},{"x":25.85,"y":-0.6},{"x":27.1,"y":-0.3},{"x":27.4,"y":-0.8},{"x":28.35,"y":-0.75},{"x":20.85,"y":-0.7},{"x":20.5,"y":-1.1},{"x":21.3,"y":-0.95},{"x":21.8,"y":-1.2},{"x":7.55,"y":-1.15},{"x":8.2,"y":-0.95},{"x":15.6,"y":-1},{"x":15.7,"y":-1.4},{"x":18.8,"y":-1.25},{"x":11.3,"y":-1.2},{"x":13.2,"y":-1.4},{"x":8.4,"y":-1.55},{"x":8.9,"y":-1.55},{"x":10.25,"y":-1.5},{"x":27.35,"y":-1.3},{"x":27.4,"y":-1.6},{"x":26.6,"y":-1.65},{"x":11.65,"y":-1.8},{"x":13.5,"y":-2},{"x":18.25,"y":-1.95},{"x":21.3,"y":-1.85},{"x":25.7,"y":-1.85},{"x":25.9,"y":-2.2},{"x":7.95,"y":-2.1},{"x":8.4,"y":-2.05},{"x":8.7,"y":-2.4},{"x":10.45,"y":-2.15},{"x":11.3,"y":-2.3},{"x":15.85,"y":-2.15},{"x":21.9,"y":-2.25},{"x":22.35,"y":-2.4},{"x":25.35,"y":-2.6},{"x":10.05,"y":-2.65},{"x":10.55,"y":-2.6},{"x":11.4,"y":-2.75},{"x":14.05,"y":-2.7},{"x":14.9,"y":-2.8},{"x":15.5,"y":-2.85},{"x":14.5,"y":-2.95},{"x":19.4,"y":-2.5},{"x":19.65,"y":-3},{"x":17.7,"y":-2.8},{"x":23.4,"y":-2.85},{"x":27.8,"y":-3},{"x":7.2,"y":-2.8},{"x":6.6,"y":-2.5},{"x":14.7,"y":-3.4},{"x":14.4,"y":-3.85},{"x":11.7,"y":-3.5},{"x":18.55,"y":-3.4},{"x":24.85,"y":-3.2},{"x":24.1,"y":-3.5},{"x":24.1,"y":-3.8},{"x":26.55,"y":-3.8},{"x":26.95,"y":-4},{"x":20.8,"y":-3.9},{"x":19.4,"y":-4.2},{"x":22.55,"y":-4.3},{"x":5.65,"y":-3.9},{"x":13.75,"y":-4.05},{"x":13.5,"y":-4.25},{"x":6.05,"y":-4.45},{"x":17.5,"y":-4.7},{"x":18.4,"y":-4.7},{"x":22.55,"y":-4.75},{"x":19.5,"y":-4.8},{"x":20.4,"y":-4.9},{"x":19.9,"y":-5.1},{"x":3.55,"y":-4.85},{"x":4.6,"y":-4.65},{"x":5.2,"y":-5.15},{"x":6.25,"y":-5.35},{"x":6.2,"y":-5.7},{"x":9.2,"y":-5.7},{"x":11.1,"y":-5.35},{"x":28.25,"y":-5.2},{"x":28.9,"y":-5.5},{"x":25.8,"y":-5.65},{"x":19.55,"y":-5.55},{"x":22.55,"y":-5.7},{"x":20.7,"y":-5.9},{"x":21.3,"y":-5.95},{"x":14.4,"y":-6.1},{"x":13.85,"y":-6.3},{"x":13.3,"y":-6.7},{"x":6.25,"y":-6.3},{"x":6.15,"y":-6.6},{"x":8.1,"y":-6.45},{"x":8.3,"y":-6.7},{"x":9.2,"y":-6.55},{"x":16.75,"y":-6.3},{"x":15.7,"y":-6.65},{"x":17,"y":-6.8},{"x":16.5,"y":-6.9},{"x":16,"y":-7.1},{"x":16.6,"y":-7.3},{"x":19.3,"y":-6.45},{"x":22.45,"y":-6.3},{"x":23.05,"y":-6.4},{"x":23.5,"y":-6.5},{"x":23.7,"y":-6.75},{"x":23.2,"y":-6.9},{"x":24.6,"y":-6.25},{"x":24.9,"y":-6.4},{"x":24.7,"y":-6.6},{"x":29,"y":-6.45},{"x":29,"y":-7.1},{"x":28.9,"y":-7.45},{"x":9.75,"y":-7.35},{"x":13.9,"y":-7.1},{"x":24.25,"y":-7.25},{"x":18.8,"y":-7.15},{"x":18.35,"y":-7.5},{"x":17.7,"y":-7.5},{"x":17.65,"y":-7.8},{"x":20.55,"y":-7.45},{"x":22.5,"y":-7.4},{"x":22.6,"y":-7.85},{"x":14.25,"y":-7.55},{"x":14.95,"y":-7.85},{"x":12.15,"y":-7.9},{"x":14,"y":-8.1},{"x":14.45,"y":-8.05},{"x":14.15,"y":-8.55},{"x":16.6,"y":-7.9},{"x":19.55,"y":-8},{"x":21.1,"y":-8.15},{"x":19.8,"y":-8.45},{"x":17.85,"y":-8.4},{"x":18.25,"y":-8.25},{"x":25.7,"y":-8},{"x":26.25,"y":-7.95},{"x":26.45,"y":-8.05},{"x":27.5,"y":-7.7},{"x":28.3,"y":-7.95},{"x":28.75,"y":-8},{"x":22.95,"y":-8.55},{"x":15,"y":-8.55},{"x":10.35,"y":-8.55},{"x":10.85,"y":-8.7},{"x":10.8,"y":-9},{"x":13.3,"y":-8.65},{"x":16.5,"y":-8.4},{"x":16.2,"y":-8.7},{"x":16.7,"y":-8.8},{"x":5.95,"y":-9},{"x":14.75,"y":-9.1},{"x":15.55,"y":-9},{"x":16.6,"y":-9.3},{"x":17.1,"y":-9.35},{"x":17.7,"y":-9.1},{"x":19.8,"y":-8.95},{"x":22.25,"y":-9},{"x":22.65,"y":-9.1},{"x":23.25,"y":-9.35},{"x":24,"y":-9.2},{"x":24.1,"y":-9.5},{"x":23.7,"y":-9.45},{"x":21.45,"y":-9.35},{"x":18.85,"y":-9.45},{"x":29.6,"y":-9.3},{"x":29.8,"y":-9.6},{"x":12.1,"y":-9.7},{"x":20.5,"y":-9.8},{"x":6.65,"y":-9.7},{"x":6.85,"y":-10.05},{"x":15.15,"y":-9.95},{"x":15.5,"y":-10},{"x":15.9,"y":-10.2},{"x":10.45,"y":-10.2},{"x":6.65,"y":-10.4},{"x":6.35,"y":-10.9},{"x":7.35,"y":-10.75},{"x":8.35,"y":-11},{"x":10.85,"y":-10.9},{"x":11.5,"y":-10.6},{"x":13.2,"y":-11},{"x":14.85,"y":-10.85},{"x":21.3,"y":-10.55},{"x":22.25,"y":-10.4},{"x":23.2,"y":-10.6},{"x":23.5,"y":-10.35},{"x":24,"y":-10.6},{"x":12.15,"y":-11.25},{"x":9.75,"y":-11.45},{"x":18.1,"y":-11.3},{"x":19.2,"y":-11.3},{"x":20.45,"y":-11.3},{"x":22.75,"y":-11.2},{"x":21.6,"y":-11.5},{"x":20.4,"y":-11.8},{"x":21.2,"y":-11.7},{"x":18.55,"y":-11.8},{"x":14.35,"y":-11.55},{"x":14.65,"y":-11.45},{"x":11.05,"y":-11.85},{"x":11.5,"y":-11.8},{"x":10.2,"y":-12},{"x":12.4,"y":-11.9},{"x":12.85,"y":-12.4},{"x":19.8,"y":-12.55},{"x":20.7,"y":-12.45},{"x":15.5,"y":-12.55},{"x":15.95,"y":-12.8},{"x":16.5,"y":-12.8},{"x":18.2,"y":-12.8},{"x":18.95,"y":-12.95},{"x":14.3,"y":-12.8},{"x":13.55,"y":-12.8},{"x":9.85,"y":-12.95},{"x":10.35,"y":-12.9},{"x":3.4,"y":-12.3},{"x":4.5,"y":-12.1},{"x":5.85,"y":-12.55},{"x":13.2,"y":-13.15},{"x":16.8,"y":-13.15},{"x":20.9,"y":-13.2},
{"x":-14.1,"y":-13.5},{"x":-14.7,"y":-13.8},{"x":-14.3,"y":-14.1},{"x":-14,"y":-13.9},{"x":-13.1,"y":-13.65},{"x":-8.9,"y":-13.5},{"x":-8.5,"y":-13.55},{"x":-10.3,"y":-14.35},{"x":-9.45,"y":-14.45},{"x":-8.55,"y":-14.3},{"x":-7.7,"y":-14.2},{"x":-6.85,"y":-14.15},{"x":-6.4,"y":-14.2},{"x":-6.1,"y":-13.8},{"x":-4.5,"y":-14},{"x":-5.15,"y":-13.4},{"x":-15.45,"y":-15},{"x":-15,"y":-14.75},{"x":-14.7,"y":-15.3},{"x":-11.35,"y":-14.9},{"x":-10.5,"y":-15.05},{"x":-9.15,"y":-14.9},{"x":-9.3,"y":-15.05},{"x":-11.1,"y":-15.4},{"x":-10.5,"y":-15.4},{"x":-6.05,"y":-15.1},{"x":-4.85,"y":-14.85},{"x":-1.8,"y":-15.35},{"x":0.5,"y":-15.5},{"x":2.6,"y":-14.9},{"x":3.45,"y":-15.2},{"x":-15.4,"y":-15.7},{"x":-13.3,"y":-15.6},{"x":-9.8,"y":-15.7},{"x":-11.7,"y":-15.85},{"x":-13.1,"y":-16.2},{"x":-10.4,"y":-15.95},{"x":-9,"y":-16},{"x":-7.3,"y":-15.8},{"x":-7.45,"y":-16.1},{"x":-4.6,"y":-15.85},{"x":-4.25,"y":-15.9},{"x":-1.4,"y":-16},{"x":-16,"y":-16.2},{"x":-14.9,"y":-16.3},{"x":-14.5,"y":-16.15},{"x":-6.75,"y":-16.25},{"x":-7.45,"y":-16.45},{"x":-10.05,"y":-16.55},{"x":-8.9,"y":-16.55},{"x":-5.25,"y":-16.55},{"x":-11.9,"y":-16.85},{"x":-12.35,"y":-17.05},{"x":-4.6,"y":-16.9},{"x":-1.5,"y":-16.7},{"x":1,"y":-16.8},{"x":-14.3,"y":-17},{"x":-14.2,"y":-17.3},{"x":-9.3,"y":-17.1},{"x":-8.8,"y":-17.05},{"x":-5.7,"y":-17},{"x":-4.2,"y":-17.2},{"x":-10.5,"y":-17.3},{"x":-11.2,"y":-17.6},{"x":-8.3,"y":-17.6},{"x":-3.35,"y":-17.35},{"x":1.95,"y":-17.3},{"x":1.6,"y":-17.6},{"x":-1.15,"y":-17.6},{"x":-0.35,"y":-17.75},{"x":0.2,"y":-17.5},{"x":2.65,"y":-17.95},{"x":3.2,"y":-18},{"x":3.4,"y":-17.45},{"x":-4.4,"y":-17.85},{"x":-8.3,"y":-18.05},{"x":-7.8,"y":-18.2},{"x":-13.7,"y":-18.05},{"x":-13,"y":-18.2},{"x":-13.3,"y":-18.3},{"x":-1.05,"y":-18.3},{"x":-0.65,"y":-18.5},{"x":-14.4,"y":-18.6},{"x":-13.25,"y":-18.7},{"x":-11.4,"y":-18.5},{"x":-10.9,"y":-18.6},{"x":-7.2,"y":-18.6},{"x":-6.2,"y":-18.5},{"x":-4.75,"y":-18.6},{"x":2.1,"y":-18.6},{"x":1.6,"y":-19},{"x":1.25,"y":-19.15},{"x":3.45,"y":-18.65},{"x":-10.75,"y":-19.05},{"x":-9.1,"y":-19.3},{"x":-10.7,"y":-19.6},{"x":-8.9,"y":-19.75},{"x":-12.9,"y":-19.8},{"x":-7.3,"y":-19.85},{"x":-5.3,"y":-19.7},{"x":-9,"y":-20.3},{"x":-10.4,"y":-20.45},{"x":-10.65,"y":-20.6},{"x":-3.3,"y":-20.4},{"x":-6.35,"y":-20.55},{"x":-8.45,"y":-20.65},{"x":-7.1,"y":-20.9},{"x":-7.1,"y":-21.25},{"x":-8.5,"y":-21.1},{"x":-7.9,"y":-21.55},{"x":-8.5,"y":-21.65},{"x":-7.9,"y":-21.85},{"x":-2.4,"y":-21.7},{"x":-2.2,"y":-22.1},{"x":-2.75,"y":-21.4},{"x":-9,"y":-22.15},{"x":-8.5,"y":-22.5},{"x":-10.2,"y":-22.15},{"x":-9.95,"y":-22.8},{"x":-7.7,"y":-22.45},{"x":-7.4,"y":-22.7},{"x":-7.65,"y":-22.9},{"x":-7.4,"y":-23},{"x":-6.3,"y":-22.95},
{"x":24.05,"y":-13.6},{"x":18.95,"y":-13.55},{"x":19.55,"y":-13.85},{"x":14.5,"y":-13.7},{"x":13.4,"y":-13.65},{"x":9.85,"y":-13.55},{"x":9.4,"y":-14.1},{"x":10.05,"y":-14.15},{"x":6.9,"y":-14.2},{"x":7.75,"y":-14.4},{"x":8.25,"y":-14.4},{"x":8.65,"y":-14.75},{"x":9.95,"y":-14.9},{"x":14.55,"y":-14.25},{"x":15.1,"y":-14.15},{"x":15.6,"y":-14.15},{"x":13.25,"y":-14.2},{"x":18.3,"y":-14.1},{"x":20.4,"y":-14.3},{"x":22.1,"y":-14.5},{"x":18.3,"y":-14.65},{"x":18.4,"y":-14.9},{"x":14.1,"y":-14.85},{"x":15.8,"y":-14.8},{"x":16.1,"y":-15.05},{"x":19.65,"y":-14.9},{"x":19.75,"y":-15.1},{"x":20.8,"y":-14.95},{"x":21,"y":-15.4},{"x":17.3,"y":-15.2},{"x":17.3,"y":-15.5},{"x":4.6,"y":-15.6},{"x":6.1,"y":-15.3},{"x":5.8,"y":-15.3},{"x":8.2,"y":-15.4},{"x":9.6,"y":-15.35},{"x":9.95,"y":-15.45},{"x":10.9,"y":-15.4},{"x":15.05,"y":-15.35},{"x":15.65,"y":-15.7},{"x":16.3,"y":-15.7},{"x":20.25,"y":-15.6},{"x":20.1,"y":-16},{"x":20.6,"y":-16.25},{"x":12.2,"y":-15.95},{"x":11.6,"y":-16.1},{"x":3.95,"y":-16.35},{"x":3.55,"y":-16.5},{"x":15.45,"y":-16.55},{"x":17.4,"y":-16.55},{"x":22.75,"y":-16.55},{"x":6.85,"y":-16.8},{"x":6.6,"y":-16.9},{"x":4.65,"y":-16.95},{"x":4.2,"y":-17.3},{"x":3.7,"y":-17.2},{"x":9.35,"y":-17.25},{"x":12.15,"y":-17},{"x":12.25,"y":-17.4},{"x":13.5,"y":-17.25},{"x":15.5,"y":-16.95},{"x":15.65,"y":-17.3},{"x":15.7,"y":-17.6},{"x":20.85,"y":-17.4},{"x":20.9,"y":-17.9},{"x":9.3,"y":-17.6},{"x":7.65,"y":-17.65},{"x":8.4,"y":-17.75},{"x":8.2,"y":-17.95},{"x":5.85,"y":-18},{"x":6.3,"y":-18.05},{"x":3.7,"y":-18.6},{"x":12.9,"y":-18.6},{"x":7.75,"y":-19},{"x":8.9,"y":-18.9},{"x":9.4,"y":-19.05},{"x":14.85,"y":-19.05},{"x":14.1,"y":-19.25},{"x":5.85,"y":-19.4},{"x":10.9,"y":-19.25},{"x":8.85,"y":-19.5},{"x":8.95,"y":-19.95},{"x":14,"y":-19.9},{"x":6.2,"y":-20.05},{"x":6.65,"y":-20.1},{"x":7.35,"y":-20.05},{"x":7.65,"y":-20.2},{"x":6.25,"y":-20.35},{"x":6.5,"y":-20.5},{"x":10.85,"y":-20.5},{"x":11.25,"y":-20.55},{"x":12.15,"y":-20.75},{"x":9.05,"y":-20.7},{"x":14.95,"y":-20.9},{"x":14.95,"y":-21.15},{"x":17.1,"y":-21.05},{"x":17.8,"y":-20.95},{"x":14.6,"y":-22.05},{"x":14.5,"y":-22.45},{"x":11.2,"y":-22.35},{"x":11.85,"y":-23.65},{"x":12.05,"y":-23.8},{"x":12.85,"y":-23.95},{"x":13.45,"y":-25.45},{"x":13.25,"y":-25.9},{"x":14.8,"y":-26.95},{"x":14.2,"y":-27.65},{"x":13.4,"y":-27.5},{"x":12.6,"y":-28.05},{"x":13.4,"y":-28.05},{"x":13.4,"y":-28.55},{"x":13.7,"y":-28.95},{"x":14.15,"y":-29},{"x":13.45,"y":-29.25},{"x":14,"y":-29.45},{"x":12.65,"y":-29.6},{"x":13.15,"y":-30.1},{"x":4.95,"y":-28.6},{"x":5.1,"y":-29},{"x":5.05,"y":-29.95},{"x":6.25,"y":-30.5},{"x":8.6,"y":-30.6},{"x":8.5,"y":-31.3},{"x":11.35,"y":-30.6},{"x":10.7,"y":-30.9},{"x":10.35,"y":-31.2},{"x":11.2,"y":-31.2},{"x":11.65,"y":-31.3},{"x":12.6,"y":-30.95},{"x":10.3,"y":-31.75},{"x":12.4,"y":-31.75},{"x":12.9,"y":-31.75},{"x":9.45,"y":-32.15},{"x":10.05,"y":-32.4},{"x":12.55,"y":-32.25},{"x":11.75,"y":-32.5},{"x":12.9,"y":-32.4},{"x":11.6,"y":-32.85},{"x":7.95,"y":-32.4},{"x":7.8,"y":-33.05},{"x":8.25,"y":-33.05},{"x":8.7,"y":-33.05},{"x":9.2,"y":-32.7},{"x":10.2,"y":-33},{"x":10.55,"y":-33.1},{"x":9.15,"y":-33.35},{"x":9.55,"y":-33.35},{"x":7.9,"y":-33.45},{"x":7.55,"y":-33.55},
{"x":-29.9,"y":5.1},{"x":-30.7,"y":3.9},{"x":-34.1,"y":3.2},{"x":-26.8,"y":3.7},{"x":-29.1,"y":1.5},{"x":-26.5,"y":-0.8},{"x":-26.9,"y":-1.2},{"x":-23.3,"y":-3},{"x":-32.3,"y":-3.5},{"x":-31.8,"y":-5.3},{"x":-30.6,"y":-5.5},{"x":-31.9,"y":-5.9},{"x":-33,"y":-6.7},{"x":-33.5,"y":-7.2},{"x":-33.8,"y":-7.3}],
"gray":[{"x":-16.8,"y":22.1},{"x":-3.9,"y":24.4},{"x":-19.2,"y":19},{"x":-18.7,"y":19},{"x":-4.1,"y":13.3},{"x":-5.2,"y":11.1},{"x":-4.6,"y":10.5},{"x":-6.2,"y":10},{"x":-4.5,"y":8.9},{"x":-7,"y":8.3},{"x":-6.3,"y":8.2},{"x":-4.6,"y":8.2},{"x":-7,"y":7.7},{"x":0.9,"y":22.1},{"x":12.5,"y":21.2},{"x":12.8,"y":20.2},{"x":20,"y":16.7},{"x":22.5,"y":17},{"x":22.1,"y":16.8},{"x":23.8,"y":15.9},{"x":21.8,"y":15.6},{"x":22,"y":14.9},{"x":19.9,"y":14.8},{"x":21.8,"y":14.4},{"x":23.8,"y":14.7},{"x":24.7,"y":13.4},{"x":17.2,"y":12.2},{"x":21.8,"y":11.2},{"x":17.3,"y":10.1},{"x":16.2,"y":8.5},{"x":26.1,"y":9.4},{"x":8.5,"y":7.7},{"x":6.5,"y":6.05},{"x":-15.2,"y":6.4},{"x":1.6,"y":4.8},{"x":1.5,"y":1.7},{"x":-20,"y":1.1},{"x":-14.9,"y":0.06},{"x":1,"y":-0.3},{"x":-18.7,"y":-0.7},{"x":-10.4,"y":-1.3},{"x":1.4,"y":-1.5},{"x":0.75,"y":-2},{"x":3.35,"y":-2.2},{"x":1.45,"y":-2.8},{"x":1.75,"y":-2.8},{"x":-4.2,"y":-3.55},{"x":-11.2,"y":-6.55},{"x":-1,"y":-6.3},{"x":-10.2,"y":-8.5},{"x":-5,"y":-12.15},{"x":-6,"y":-13.15},{"x":22.8,"y":5.65},{"x":31.9,"y":5.8},{"x":25.2,"y":3.8},{"x":25.1,"y":3.5},{"x":9.3,"y":3.6},{"x":25.6,"y":1.85},{"x":9.5,"y":1},{"x":16.4,"y":-1.9},{"x":13.15,"y":-2.65},{"x":22.55,"y":-2.95},{"x":4.45,"y":-4.55},{"x":5.35,"y":-5.05},{"x":9.3,"y":-5.4},{"x":18.95,"y":-5.7},{"x":9.9,"y":-8.1},{"x":27.1,"y":-8.1},{"x":11.75,"y":-9.9},{"x":28.5,"y":-10.05},{"x":14.9,"y":-12.1},{"x":-6.3,"y":-14.15},{"x":-9.1,"y":-15.7},{"x":-11.6,"y":-16.4},{"x":-6.3,"y":-16.75},{"x":-13.05,"y":-17.45},{"x":-4.3,"y":-17.35},{"x":1.25,"y":-16},{"x":-0.55,"y":-17.15},{"x":7.3,"y":-13.9},{"x":6.05,"y":-15.1},{"x":12.9,"y":-14.15},{"x":10.9,"y":-32.05}],
"red":[{"x":-7.3,"y":26.7},{"x":-11.3,"y":24.8},{"x":-23.6,"y":11.3},{"x":-10.2,"y":10.6},{"x":-10.3,"y":9.8},{"x":-10.3,"y":9.2},{"x":-9.8,"y":9.2},{"x":-7.7,"y":9.5},{"x":-7.2,"y":9.5},{"x":-8,"y":8.9},{"x":-8.1,"y":8.6},{"x":-8.1,"y":8.2},{"x":0.3,"y":9.9},{"x":0.8,"y":17.8},{"x":-11.1,"y":7.8},{"x":10.8,"y":24.4},{"x":11.6,"y":22.1},{"x":12.1,"y":21.6},{"x":12.8,"y":21.8},{"x":11.4,"y":20.9},{"x":10.8,"y":19.6},{"x":11.6,"y":19.2},{"x":10.8,"y":19},{"x":10.8,"y":18.7},{"x":11.2,"y":18.5},{"x":9.8,"y":18.3},{"x":8.9,"y":17.8},{"x":8.5,"y":17.2},{"x":9.4,"y":17.2},{"x":8.2,"y":16.6},{"x":10,"y":16.7},{"x":10.6,"y":17},{"x":10.7,"y":17.2},{"x":9.2,"y":16.4},{"x":9.2,"y":16.2},{"x":10.3,"y":16.1},{"x":7.3,"y":15.8},{"x":8.6,"y":15.8},{"x":8.7,"y":15.5},{"x":7.7,"y":15.1},{"x":7.9,"y":14.4},{"x":7.8,"y":13.3},{"x":22.8,"y":21.2},{"x":15.8,"y":15.4},{"x":15.3,"y":15},{"x":16,"y":14.7},{"x":16.2,"y":14.4},{"x":17,"y":14.7},{"x":17,"y":13.6},{"x":2.5,"y":13},{"x":1.9,"y":11.6},{"x":5.1,"y":10.6},{"x":4.8,"y":10.1},{"x":4.2,"y":9.2},{"x":2.3,"y":8.9},{"x":-5.5,"y":6.6},{"x":-2.4,"y":6.2},{"x":-2.4,"y":5.75},{"x":-7.1,"y":3.7},{"x":-3.6,"y":3.4},{"x":-19.2,"y":1.85},{"x":-0.75,"y":1.1},{"x":-6,"y":0.1},{"x":-17.25,"y":-2.85},{"x":-16.4,"y":-3.15},{"x":-16.7,"y":-4.05},{"x":-8.6,"y":-4.8},{"x":-0.2,"y":-4.2},{"x":0.5,"y":-4.5},{"x":-8.9,"y":-6.3},{"x":-3.85,"y":-6.2},{"x":-15.05,"y":-6.65},{"x":-22.6,"y":-12.6},{"x":-22.6,"y":-13.1},{"x":-8.1,"y":-11.6},{"x":-10.3,"y":-12.3},{"x":-10,"y":-12.6},{"x":-7,"y":-12.8},{"x":-9.65,"y":-13.2},{"x":-10.3,"y":-13.4},{"x":0.8,"y":-13.35},{"x":6.9,"y":3.85},{"x":32.25,"y":4.15},{"x":6.7,"y":-2.65},{"x":7.55,"y":-3.4},{"x":11.65,"y":-4},{"x":3.9,"y":-11.95},{"x":5.1,"y":-11.85},{"x":5.1,"y":-12.2},{"x":4.9,"y":-12.4},{"x":5.45,"y":-13},{"x":-9,"y":-21.55},{"x":-10.65,"y":-22.15},{"x":-2.65,"y":-21.35},{"x":3.2,"y":-19.45},{"x":3.15,"y":-19.75},{"x":-3.4,"y":-14.45},{"x":-4.5,"y":-15.5},{"x":-4.2,"y":-15.45},{"x":-10.2,"y":-13.55},{"x":4.1,"y":-13.65},{"x":10.7,"y":-21.35},{"x":11.5,"y":-23.2},{"x":5.35,"y":-29.85},{"x":5.85,"y":-30.1},{"x":8.65,"y":-32.55},{"x":13.1,"y":-32.75},
{"x":-38.2,"y":3.4},{"x":-37.8,"y":3.2},{"x":-37.3,"y":3.3},{"x":-37.1,"y":3.6},{"x":-37,"y":3.1},{"x":-36.2,"y":3.2},{"x":-35.8,"y":3},{"x":-35.5,"y":2.7},{"x":-37.8,"y":2.4},{"x":-37.3,"y":2.3},{"x":-38,"y":1.9},{"x":-37,"y":2.1},{"x":-36.4,"y":2.1},{"x":-35.7,"y":1.9},{"x":-34.5,"y":1.9},{"x":-34.2,"y":1.8},{"x":-36.3,"y":1.4},{"x":-36.6,"y":1.2},{"x":-35.5,"y":1.2},{"x":-35,"y":1.3},{"x":-35.3,"y":1},{"x":-34.5,"y":1.3},{"x":-34.1,"y":1.5},{"x":-33.7,"y":1.4},{"x":-34.3,"y":0.8},{"x":-33,"y":0.9},{"x":-33.5,"y":3},{"x":-33,"y":3.1},{"x":-32.7,"y":3.2},{"x":-31.4,"y":3.7},{"x":-30.5,"y":4.2},{"x":-30.3,"y":4.4},{"x":-31.6,"y":2.5},{"x":-31,"y":2.7},{"x":-30.6,"y":2.6},{"x":-31,"y":2.3},{"x":-26.8,"y":3.4},{"x":-26.5,"y":3.3},{"x":-30,"y":1.2},{"x":-29.8,"y":1},{"x":-29,"y":0.9},{"x":-28.3,"y":1},{"x":-28.1,"y":0.6},{"x":-36.9,"y":0.3},{"x":-36.3,"y":0.4},{"x":-37,"y":0},{"x":-36.1,"y":-0.4},{"x":-35.7,"y":0.1},{"x":-35,"y":0},{"x":-34.7,"y":0},{"x":-35.3,"y":-0.6},{"x":-34.5,"y":-0.4},{"x":-33.8,"y":0.1},{"x":-31.9,"y":0.2},{"x":-30.8,"y":-0.3},{"x":-30.3,"y":-0.6},{"x":-29.9,"y":-0.1},{"x":-29.3,"y":-0.2},{"x":-28.8,"y":-0.4},{"x":-29.8,"y":-1.6},{"x":-29.4,"y":-2},{"x":-29,"y":-1.8},{"x":-28.9,"y":-2.3},{"x":-28.5,"y":-2.3},{"x":-28.5,"y":-2.4},{"x":-27.1,"y":-2.3},{"x":-31.8,"y":-1.9},{"x":-30.8,"y":-1.9},{"x":-33.4,"y":-2.1},{"x":-36.3,"y":-2.4},{"x":-35.8,"y":-2.5},{"x":-34.3,"y":-2.6},{"x":-33.6,"y":-3},{"x":-34,"y":-3.1},{"x":-33.8,"y":-3.3},{"x":-34,"y":-3.6},{"x":-31.6,"y":-3},{"x":-31,"y":-3.1},{"x":-31.5,"y":-3.4},{"x":-30.1,"y":-3.3},{"x":-28.6,"y":-3.2},{"x":-25,"y":-2.9},{"x":-22.6,"y":-3.2},{"x":-35.7,"y":-3.8},{"x":-35.1,"y":-3.9},{"x":-35.4,"y":-4.4},{"x":-36.4,"y":-4.3},{"x":-36,"y":-4.7},{"x":-33,"y":-3.8},{"x":-32.7,"y":-4.2},{"x":-31.6,"y":-4.2},{"x":-30.4,"y":-3.8},{"x":-29.8,"y":-3.9},{"x":-30.3,"y":-4.1},{"x":-28.7,"y":-3.9},{"x":-28.4,"y":-4.1},{"x":-27.8,"y":-3.5},{"x":-27.5,"y":-3.5},{"x":-27.8,"y":-3.9},{"x":-27.1,"y":-4},{"x":-34.3,"y":-4.4},{"x":-34.1,"y":-4.7},{"x":-33.7,"y":-4.7},{"x":-33.8,"y":-5},{"x":-32.6,"y":-4.6},{"x":-32.6,"y":-5},{"x":-30.9,"y":-4.6},{"x":-29.3,"y":-4.8},{"x":-29,"y":-4.7},{"x":-28.5,"y":-5.2},{"x":-28.5,"y":-5.4},{"x":-35.7,"y":-5.3},{"x":-33.8,"y":-5.6},{"x":-32,"y":-5.5},{"x":-24.4,"y":-5.2},{"x":-35.5,"y":-6},{"x":-35,"y":-5.9},{"x":-34.7,"y":-5.7},{"x":-34.9,"y":-6.2},{"x":-34.3,"y":-6.4},{"x":-34,"y":-6.4},{"x":-33.3,"y":-6.4},{"x":-36.2,"y":-6.6},{"x":-36,"y":-6.5},{"x":-30.6,"y":-6.4},{"x":-30.8,"y":-6.7},{"x":-30.6,"y":-7.1},{"x":-30.2,"y":-7.5},{"x":-30.6,"y":-8},{"x":-32.1,"y":-8.2},{"x":-31.2,"y":-8.3},{"x":-27.7,"y":-6.9},{"x":-29.2,"y":-9},{"x":-27.9,"y":-9.7},{"x":-27.7,"y":-10}],
"ellipse":[{"x":-32.6,"y":7.55,"i":1},{"x":-35.1,"y":7.15,"i":2},{"x":-37.1,"y":6.3,"i":3},{"x":-38.9,"y":5,"i":4},{"x":-40.3,"y":3.2,"i":5},{"x":-41.1,"y":1,"i":6},{"x":-41.4,"y":-1.7,"i":7},{"x":-40.9,"y":-4.4,"i":8},{"x":-39.6,"y":-6.8,"i":9},{"x":-37.7,"y":-8.9,"i":10},{"x":-35.3,"y":-10.4,"i":11},{"x":-33.1,"y":-11.05,"i":12},{"x":-31.2,"y":-11.3,"i":13},{"x":-29.1,"y":-10.95,"i":14},{"x":-27.1,"y":-10.05,"i":15},{"x":-24.7,"y":-8.3,"i":16},{"x":-23.3,"y":-6,"i":17},{"x":-22.6,"y":-3.4,"i":18},{"x":-22.7,"y":-1,"i":19},{"x":-23.4,"y":1.5,"i":20},{"x":-24.8,"y":4,"i":21},{"x":-26.7,"y":5.8,"i":22},{"x":-29.1,"y":7,"i":23},{"x":-30.8,"y":7.4,"i":24}],
"connector":[{"x":-50.5,"y":25.2,"i":1},{"x":-50.4,"y":24.3,"i":2},{"x":-49.8,"y":21.9,"i":3},{"x":-48.7,"y":18.9,"i":4},{"x":-47.3,"y":16.4,"i":5},{"x":-45.4,"y":13.6,"i":6},{"x":-43.6,"y":11.5,"i":7},{"x":-41.6,"y":9.7,"i":8},{"x":-39.6,"y":8,"i":9},{"x":-37.6,"y":6.4,"i":10}],
"casing":[{"x":-42.2,"y":10.3,"i":1},{"x":-41.6,"y":9.7,"i":2},{"x":-40.8,"y":8.95,"i":3}],
"boxes":[{"x":-70,"y":45,"x2":-29.7,"y2":24.77},{"x":-70,"y":-70,"x2":-29.7,"y2":-41.73}],
"lightText":[{"x":-52.35,"y":26.95,"t":"TP53"}],
"lightTextEnd":[{"x":-54.5,"y":26.95,"t":"e"}],
"boldItalic":[{"x":-52.8,"y":12.37,"t":"3"}],
"bold":[{"x":-8.35,"y":31.75,"t":"y"}]
},
"encoding":{
"x":{"field":"x","type":"quantitative","scale":{"domain":[-41.45,35.98],"nice":false,"zero":false},"axis":{"title":"tsne1","titleFont":"Liberation Sans","titleFontSize":78,"titleFontWeight":"bold","titleColor":"black","titlePadding":23,"values":[-40,-30,-20,-10,0,10,20,30],"labelExpr":"datum.value % 20 == 0 ? toString(datum.value) : ''","labelFont":"Liberation Sans","labelFontSize":64,"labelColor":"#4d4d4d","labelPadding":12,"labelOverlap":false,"labelFlush":false,"domainColor":"black","domainWidth":11,"tickColor":"#333333","tickWidth":7,"tickSize":25,"tickOpacity":{"condition":{"test":"datum.value % 20 != 0","value":0},"value":1},"grid":true,"gridColor":"#e4e4e4","gridWidth":2,"gridDash":[8,14]}},
"y":{"field":"y","type":"quantitative","scale":{"domain":[-36.45,30.49],"nice":false,"zero":false},"axis":{"title":"tsne2","titleFont":"Liberation Sans","titleFontSize":82,"titleFontWeight":"bold","titleColor":"black","titlePadding":30,"values":[-30,-20,-10,0,10,20,30],"labelExpr":"datum.value % 20 == 0 ? toString(datum.value) : ''","labelFont":"Liberation Sans","labelFontSize":64,"labelColor":"#4d4d4d","labelPadding":16,"labelOverlap":false,"labelFlush":false,"domainColor":"black","domainWidth":11,"tickColor":"#333333","tickWidth":7,"tickSize":25,"tickOpacity":{"condition":{"test":"datum.value % 20 != 0","value":0},"value":1},"grid":true,"gridColor":"#e4e4e4","gridWidth":2,"gridDash":[8,14]}}
},
"layer":[
{"data":{"name":"redUnder"},"mark":{"type":"point","filled":true,"size":370,"opacity":1,"color":"#ff0000"}},
{"data":{"name":"grayUnder"},"mark":{"type":"point","filled":true,"size":370,"opacity":1,"color":"#d3d3d3"}},
{"data":{"name":"purple"},"mark":{"type":"point","filled":true,"size":370,"opacity":1,"color":"#955aa1"}},
{"data":{"name":"gray"},"mark":{"type":"point","filled":true,"size":370,"opacity":1,"color":"#d3d3d3"}},
{"data":{"name":"red"},"mark":{"type":"point","filled":true,"size":370,"opacity":1,"color":"#ff0000"}},
{"data":{"name":"ellipse"},"mark":{"type":"line","interpolate":"basis-closed","color":"black","strokeWidth":16,"clip":false},"encoding":{"order":{"field":"i"}}},
{"data":{"name":"casing"},"mark":{"type":"line","color":"white","strokeWidth":34},"encoding":{"order":{"field":"i"}}},
{"data":{"name":"connector"},"mark":{"type":"line","interpolate":"basis","color":"black","strokeWidth":24,"strokeCap":"butt"},"encoding":{"order":{"field":"i"}}},
{"data":{"name":"boxes"},"mark":{"type":"rect","fill":"white","stroke":"black","strokeWidth":24,"cornerRadius":40},"encoding":{"x2":{"field":"x2"},"y2":{"field":"y2"}}},
{"data":{"name":"lightText"},"mark":{"type":"text","font":"Roboto","fontWeight":300,"fontStyle":"italic","fontSize":134,"align":"left","baseline":"alphabetic","color":"black"},"encoding":{"text":{"field":"t"}}},
{"data":{"name":"lightTextEnd"},"mark":{"type":"text","font":"Roboto","fontWeight":300,"fontStyle":"italic","fontSize":134,"align":"right","baseline":"alphabetic","color":"black"},"encoding":{"text":{"field":"t"}}},
{"data":{"name":"boldItalic"},"mark":{"type":"text","font":"Liberation Sans","fontWeight":"bold","fontStyle":"italic","fontSize":97,"align":"right","baseline":"alphabetic","color":"black"},"encoding":{"text":{"field":"t"}}},
{"data":{"name":"bold"},"mark":{"type":"text","font":"Liberation Sans","fontWeight":"bold","fontSize":180,"align":"left","baseline":"alphabetic","color":"black"},"encoding":{"text":{"field":"t"}}}
]}
